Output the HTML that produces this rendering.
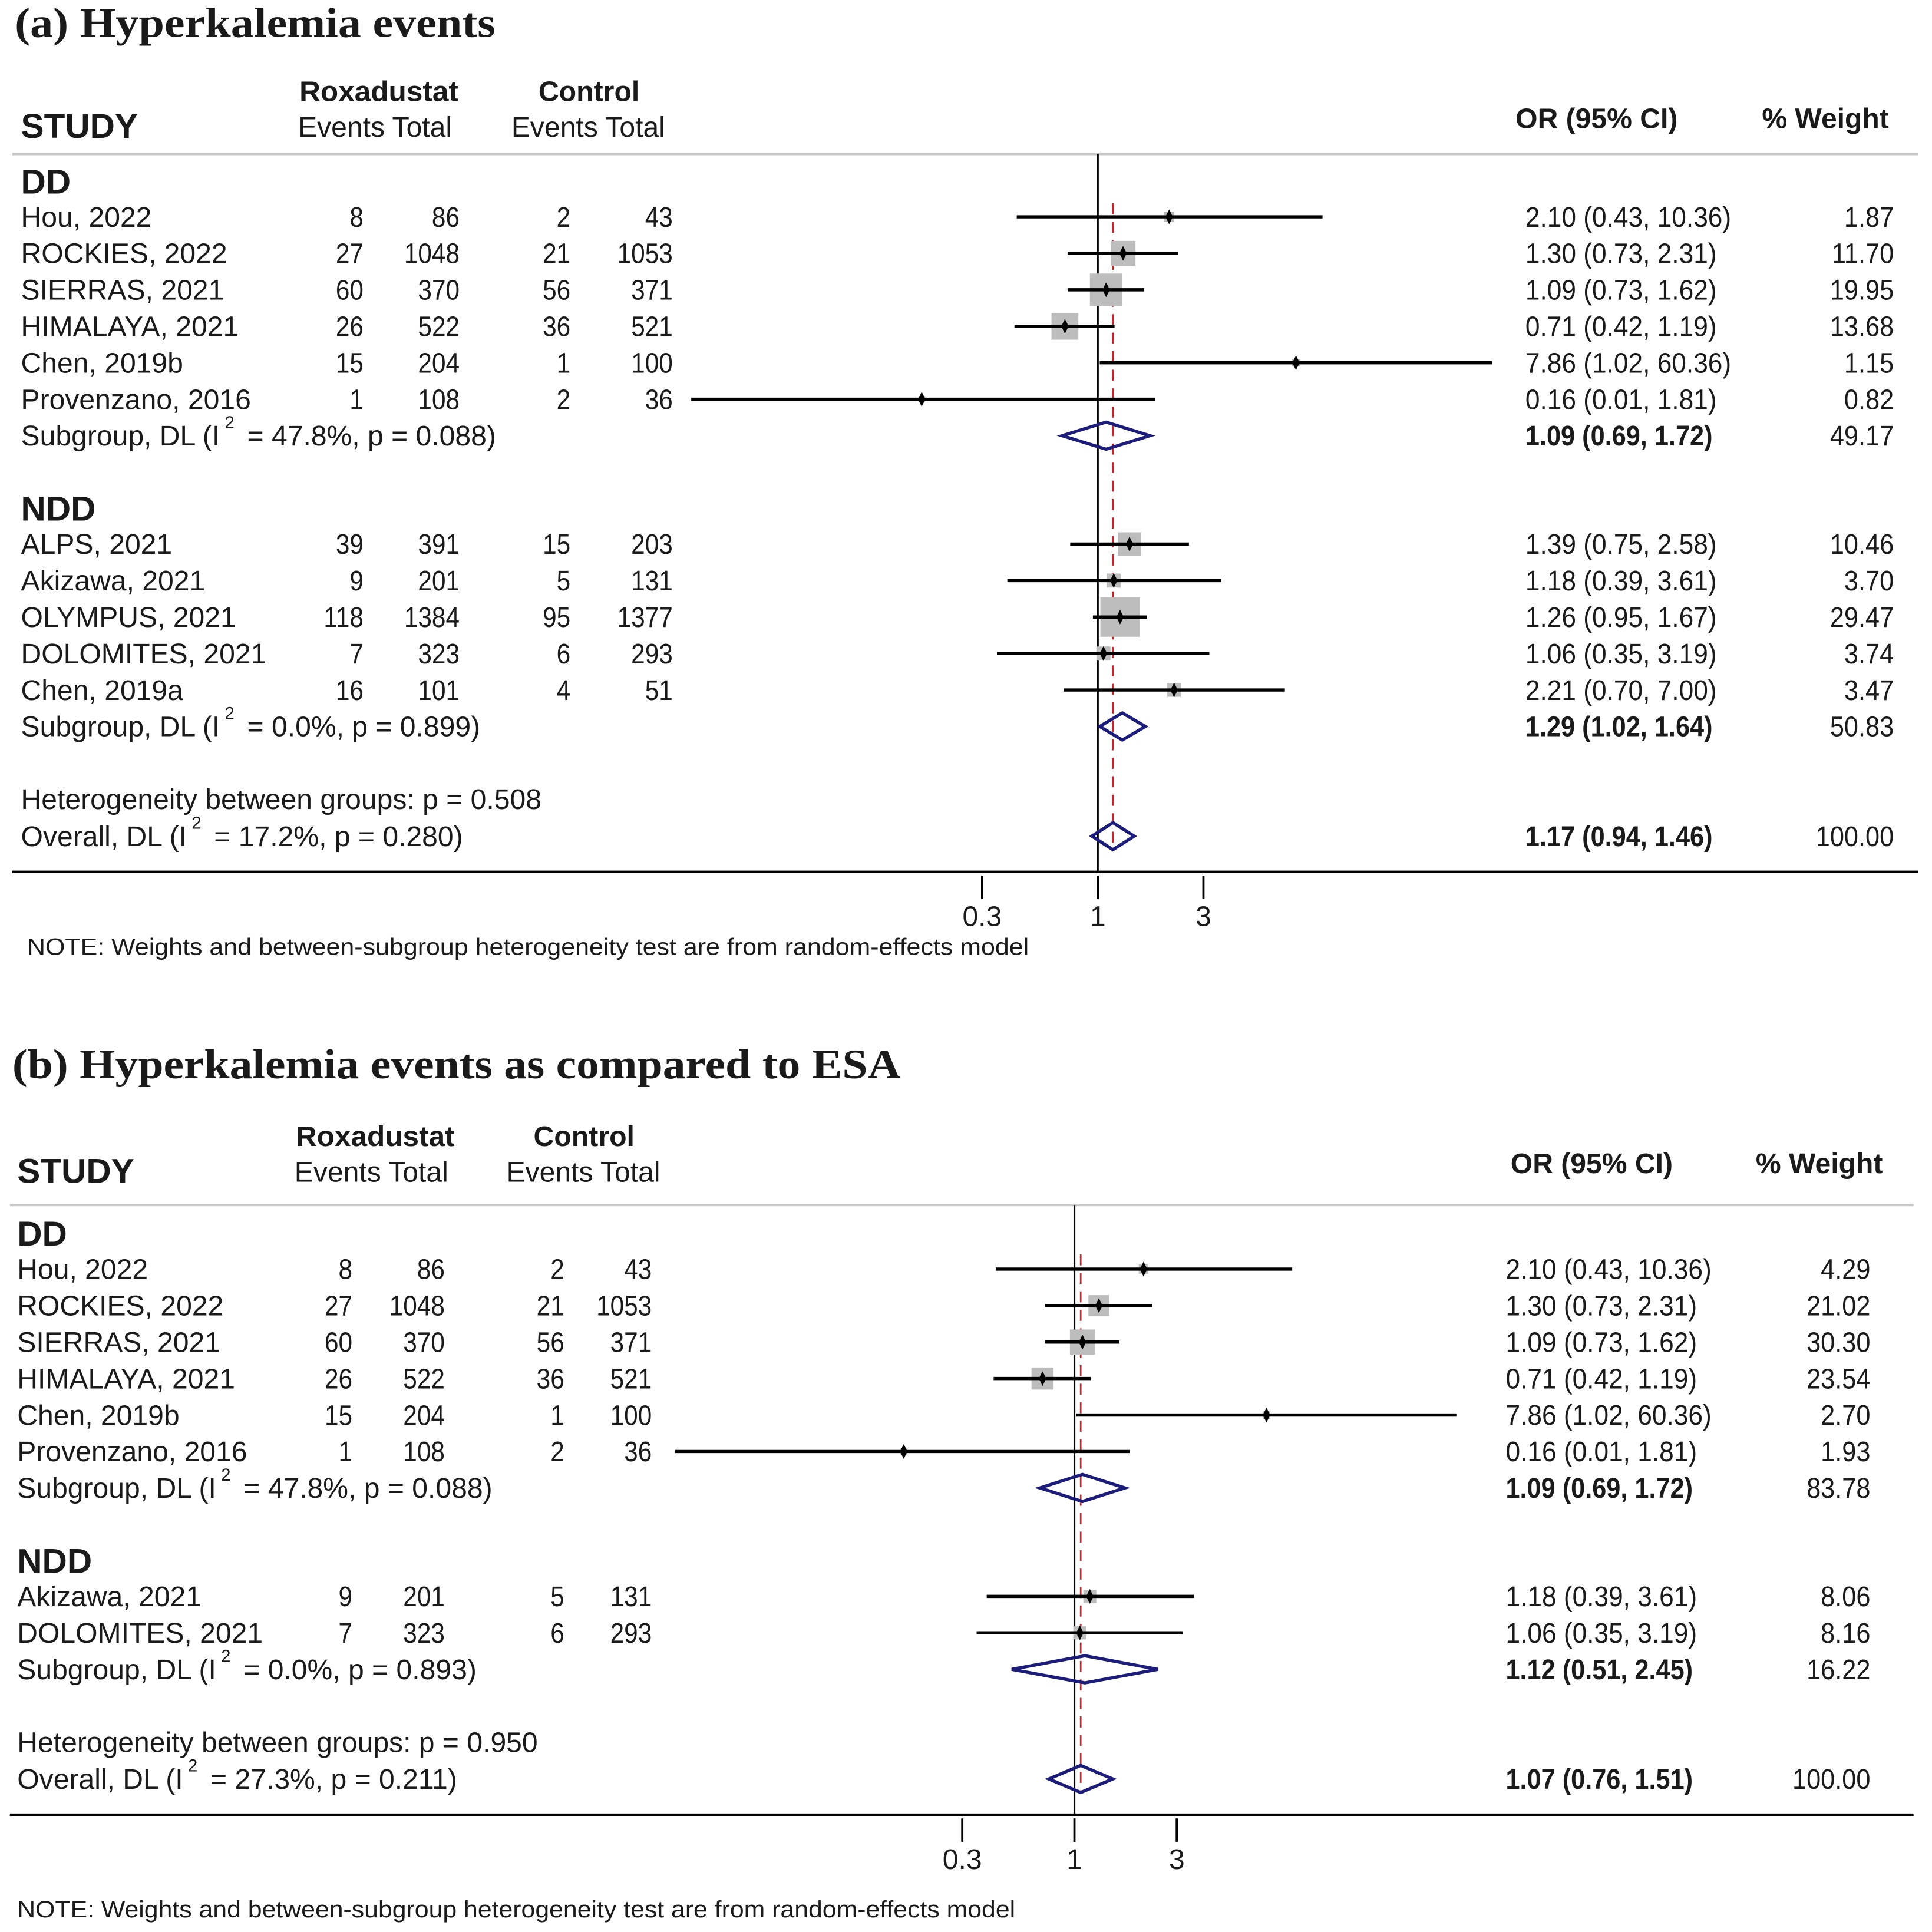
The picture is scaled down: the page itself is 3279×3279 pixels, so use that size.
<!DOCTYPE html>
<html><head><meta charset="utf-8"><style>
html,body{margin:0;padding:0;background:#fff;}
svg{display:block;}
text{fill:#1a1a1a;}
</style></head><body>
<svg id="chart" xmlns="http://www.w3.org/2000/svg" width="3279" height="3279" viewBox="0 0 1568 1568"></svg>
<script>
// ---- Panel A data ----
const aStudies = ["Hou, 2022","ROCKIES, 2022","SIERRAS, 2021","HIMALAYA, 2021","Chen, 2019b","Provenzano, 2016","ALPS, 2021","Akizawa, 2021","OLYMPUS, 2021","DOLOMITES, 2021","Chen, 2019a"];
const aGroup = [0,0,0,0,0,0,1,1,1,1,1];
const aRoxE = [8,27,60,26,15,1,39,9,118,7,16];
const aRoxT = [86,1048,370,522,204,108,391,201,1384,323,101];
const aCtlE = [2,21,56,36,1,2,15,5,95,6,4];
const aCtlT = [43,1053,371,521,100,36,203,131,1377,293,51];
const aOR = [2.10,1.30,1.09,0.71,7.86,0.16,1.39,1.18,1.26,1.06,2.21];
const aLo = [0.43,0.73,0.73,0.42,1.02,0.01,0.75,0.39,0.95,0.35,0.70];
const aHi = [10.36,2.31,1.62,1.19,60.36,1.81,2.58,3.61,1.67,3.19,7.00];
const aW = [1.87,11.70,19.95,13.68,1.15,0.82,10.46,3.70,29.47,3.74,3.47];
const aGroupNames = ["DD","NDD"];
const aSubOR = [1.09,1.29], aSubLo = [0.69,1.02], aSubHi = [1.72,1.64], aSubW = [49.17,50.83];
const aSubI2 = ["47.8%","0.0%"], aSubP = ["0.088","0.899"];
const aHetP = "0.508";
const aOverall = [1.17,0.94,1.46], aOverallI2 = "17.2%", aOverallP = "0.280";
// ---- Panel B data ----
const bStudies = ["Hou, 2022","ROCKIES, 2022","SIERRAS, 2021","HIMALAYA, 2021","Chen, 2019b","Provenzano, 2016","Akizawa, 2021","DOLOMITES, 2021"];
const bGroup = [0,0,0,0,0,0,1,1];
const bRoxE = [8,27,60,26,15,1,9,7];
const bRoxT = [86,1048,370,522,204,108,201,323];
const bCtlE = [2,21,56,36,1,2,5,6];
const bCtlT = [43,1053,371,521,100,36,131,293];
const bOR = [2.10,1.30,1.09,0.71,7.86,0.16,1.18,1.06];
const bLo = [0.43,0.73,0.73,0.42,1.02,0.01,0.39,0.35];
const bHi = [10.36,2.31,1.62,1.19,60.36,1.81,3.61,3.19];
const bW = [4.29,21.02,30.30,23.54,2.70,1.93,8.06,8.16];
const bGroupNames = ["DD","NDD"];
const bSubOR = [1.09,1.12], bSubLo = [0.69,0.51], bSubHi = [1.72,2.45], bSubW = [83.78,16.22];
const bSubI2 = ["47.8%","0.0%"], bSubP = ["0.088","0.893"];
const bHetP = "0.950";
const bOverall = [1.07,0.76,1.51], bOverallI2 = "27.3%", bOverallP = "0.211";
const tickVals = [0.3,1,3];
const tickLabels = ["0.3","1","3"];

const NS="http://www.w3.org/2000/svg";
const svg=document.getElementById('chart');
function el(tag,attrs,parent){const e=document.createElementNS(NS,tag);for(const k in attrs)e.setAttribute(k,attrs[k]);(parent||svg).appendChild(e);return e;}
function txt(g,x,y,s,size,opt){opt=opt||{};const sx=opt.sx||1;
  const t=el('text',{x:x/sx,y:y,'font-size':size,transform:'scale('+sx+',1)'},g);
  t.setAttribute('style','font-family:'+(opt.serif?'"Liberation Serif",serif':'"Liberation Sans",sans-serif'));
  if(opt.anchor)t.setAttribute('text-anchor',opt.anchor);
  if(opt.bold)t.setAttribute('font-weight','bold');
  if(opt.len){t.setAttribute('textLength',opt.len/sx);t.setAttribute('lengthAdjust','spacingAndGlyphs');}
  t.textContent=s;return t;}
function i2text(g,x,y,prefix,i2,p){
  const t=el('text',{x:x,y:y,'font-size':23,style:'font-family:"Liberation Sans",sans-serif'},g);
  t.appendChild(document.createTextNode(prefix+' (I'));
  const s=el('tspan',{'font-size':14,dy:-14,dx:4},t);s.textContent='2';
  const r=el('tspan',{dy:14,dx:4},t);r.textContent=' = '+i2+', p = '+p+')';
  return t;}
function f2(v){return v.toFixed(2);}

function panel(c,d){
  const g=el('g',{});
  
  
  const X=v=>c.x1+c.k*Math.log(v);
  const clampX=px=>Math.max(c.xmin,Math.min(c.xmax,px));
  const T=txt(g,c.tx,c.ty,c.title,34,{bold:true,serif:true,len:c.tlen});
  
  txt(g,c.hRox,c.hy1,'Roxadustat',23,{bold:true,len:129});
  txt(g,c.hCtl,c.hy1,'Control',23,{bold:true,len:82});
  txt(g,c.lx,c.hy2,'STUDY',28,{bold:true});
  txt(g,c.hRox-1,c.hy2-1,'Events  Total',23);
  txt(g,c.hCtl-22,c.hy2-1,'Events  Total',23);
  txt(g,c.hOR,c.hy2-8,'OR (95% CI)',23,{bold:true});
  txt(g,c.hW,c.hy2-8,'% Weight',23,{bold:true,anchor:'end'});
  el('line',{x1:c.lineL,x2:c.lineR,y1:c.gy,y2:c.gy,stroke:'#c8c8c8','stroke-width':2},g);
  let y=c.firstHeader; const step=29.6; const rowsY=[]; const subY=[];
  for(let gi=0;gi<d.groupNames.length;gi++){
    const h=txt(g,c.lx,y,d.groupNames[gi],28,{bold:true});
    
    let ry=y+27;
    for(let i=0;i<d.studies.length;i++){ if(d.group[i]!==gi)continue; rowsY[i]=ry; ry+=step; }
    subY[gi]=ry; y=ry+61;
  }
  const hetY=subY[subY.length-1]+59, ovY=hetY+30, axY=ovY+21;
  el('line',{x1:X(1),x2:X(1),y1:c.gy,y2:axY,stroke:'#000','stroke-width':1.5},g);
  const red=el('line',{x1:X(d.overall[0]),x2:X(d.overall[0]),y1:c.gy+40,y2:axY-18,stroke:'#c0272d','stroke-width':1.3,'stroke-dasharray':'9,6'},g);
  
  
  for(let i=0;i<d.studies.length;i++){
    const by=rowsY[i], cy=by-8;
    txt(g,c.lx,by,d.studies[i],23);
    txt(g,c.colRE,by,String(d.roxE[i]),23,{anchor:'end',sx:0.88});
    txt(g,c.colRT,by,String(d.roxT[i]),23,{anchor:'end',sx:0.88});
    txt(g,c.colCE,by,String(d.ctlE[i]),23,{anchor:'end',sx:0.88});
    txt(g,c.colCT,by,String(d.ctlT[i]),23,{anchor:'end',sx:0.88});
    txt(g,c.orx,by,f2(d.or[i])+' ('+f2(d.lo[i])+', '+f2(d.hi[i])+')',23,{sx:0.92});
    txt(g,c.wx,by,f2(d.w[i]),23,{anchor:'end',sx:0.9});
    const s=c.sq*Math.sqrt(d.w[i]); const px=X(d.or[i]);
    const sqr=el('rect',{x:px-s/2,y:cy-s/2,width:s,height:s,fill:'#bdbdbd'},g);
    
    
    const ci=el('line',{x1:clampX(X(d.lo[i])),x2:clampX(X(d.hi[i])),y1:cy,y2:cy,stroke:'#000','stroke-width':2.6},g);
    
    
    const pt=el('polygon',{points:[px,cy-6,px+3,cy,px,cy+6,px-3,cy].join(' '),fill:'#000'},g);
    
    
  }
  function diamond(or,lo,hi,cy,name){
    const dm=el('polygon',{points:[X(lo),cy,X(or),cy-11,X(hi),cy,X(or),cy+11].join(' '),fill:'none',stroke:'#1c1c7a','stroke-width':2.6},g);
    
    
  }
  for(let gi=0;gi<d.groupNames.length;gi++){
    const by=subY[gi];
    i2text(g,c.lx,by,'Subgroup, DL',d.subI2[gi],d.subP[gi]);
    txt(g,c.orx,by,f2(d.subOR[gi])+' ('+f2(d.subLo[gi])+', '+f2(d.subHi[gi])+')',23,{sx:0.9,bold:true});
    txt(g,c.wx,by,f2(d.subW[gi]),23,{anchor:'end',sx:0.9});
    diamond(d.subOR[gi],d.subLo[gi],d.subHi[gi],by-8,'subgroup-diamond');
  }
  txt(g,c.lx,hetY,'Heterogeneity between groups: p = '+d.hetP,23);
  i2text(g,c.lx,ovY,'Overall, DL',d.ovI2,d.ovP);
  txt(g,c.orx,ovY,f2(d.overall[0])+' ('+f2(d.overall[1])+', '+f2(d.overall[2])+')',23,{sx:0.9,bold:true});
  txt(g,c.wx,ovY,'100.00',23,{anchor:'end',sx:0.9});
  diamond(d.overall[0],d.overall[1],d.overall[2],ovY-8,'overall-diamond');
  const ax=el('line',{x1:c.lineL,x2:c.lineR,y1:axY,y2:axY,stroke:'#000','stroke-width':2},g);
  
  for(let t=0;t<tickVals.length;t++){
    const tx=X(tickVals[t]);
    el('line',{x1:tx,x2:tx,y1:axY+3,y2:axY+22,stroke:'#000','stroke-width':1.8},g);
    txt(g,tx,axY+44,tickLabels[t],23,{anchor:'middle'});
  }
  const n=txt(g,c.nx,c.ny,'NOTE: Weights and between-subgroup heterogeneity test are from random-effects model',19,{len:c.nlen});
  
}
panel({name:'panel-a',title:'(a) Hyperkalemia events',tx:12,ty:30,tlen:390,hy1:82,hy2:112,lx:17,
  hRox:243,hCtl:437,hOR:1230,hW:1533,
  colRE:295,colRT:373,colCE:463,colCT:546,orx:1238,wx:1537,lineL:10,lineR:1557,gy:125,firstHeader:157,
  x1:891,k:78,xmin:561,xmax:1220,sq:5.9,nx:22,ny:775,nlen:813},
 {studies:aStudies,group:aGroup,roxE:aRoxE,roxT:aRoxT,ctlE:aCtlE,ctlT:aCtlT,or:aOR,lo:aLo,hi:aHi,w:aW,
  groupNames:aGroupNames,subOR:aSubOR,subLo:aSubLo,subHi:aSubHi,subW:aSubW,subI2:aSubI2,subP:aSubP,
  hetP:aHetP,overall:aOverall,ovI2:aOverallI2,ovP:aOverallP});
panel({name:'panel-b',title:'(b) Hyperkalemia events as compared to ESA',tx:10,ty:875,tlen:721,hy1:930,hy2:960,lx:14,
  hRox:240,hCtl:433,hOR:1226,hW:1528,
  colRE:286,colRT:361,colCE:458,colCT:529,orx:1222,wx:1518,lineL:8,lineR:1553,gy:978,firstHeader:1011,
  x1:872,k:75.6,xmin:548,xmax:1190,sq:3.7,nx:14,ny:1556,nlen:810},
 {studies:bStudies,group:bGroup,roxE:bRoxE,roxT:bRoxT,ctlE:bCtlE,ctlT:bCtlT,or:bOR,lo:bLo,hi:bHi,w:bW,
  groupNames:bGroupNames,subOR:bSubOR,subLo:bSubLo,subHi:bSubHi,subW:bSubW,subI2:bSubI2,subP:bSubP,
  hetP:bHetP,overall:bOverall,ovI2:bOverallI2,ovP:bOverallP});
</script>
</body></html>
